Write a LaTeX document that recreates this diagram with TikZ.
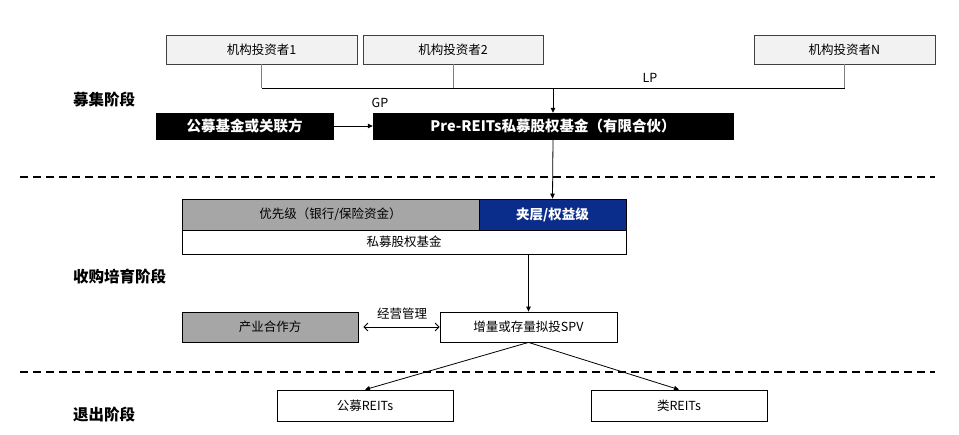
\documentclass[tikz,border=0pt]{standalone}
\usepackage{fontspec}
\setmainfont{Noto Sans CJK SC}
\usetikzlibrary{arrows.meta}
\definecolor{invfill}{HTML}{F2F2F2}
\definecolor{midgray}{HTML}{A6A6A6}
\definecolor{deepblue}{HTML}{0A2D8C}
\definecolor{edgegray}{HTML}{404040}
\tikzset{
  box/.style={draw=black, line width=0.8pt, minimum height=#1, inner sep=0pt, font=\fontsize{12.5}{14}\selectfont},
  box/.default=30pt,
  invbox/.style={draw=edgegray, fill=invfill, line width=0.8pt, minimum height=29pt, inner sep=0pt, font=\fontsize{12.5}{14}\selectfont},
  blackbox/.style={draw=black, fill=black, text=white, minimum height=26pt, inner sep=0pt, font=\fontsize{14.5}{16}\selectfont\bfseries},
  stagelabel/.style={anchor=west, inner sep=0pt, font=\fontsize{15.5}{17}\selectfont\bfseries},
  smalllabel/.style={inner sep=0pt, font=\fontsize{12.5}{14}\selectfont},
  arr/.style={-{Triangle[length=5pt,width=4.5pt]}, line width=0.8pt},
  sepline/.style={dash pattern=on 8pt off 5pt, line width=1.2pt},
}
\begin{document}
\begin{tikzpicture}[x=1pt, y=-1pt]
\useasboundingbox (0,0) rectangle (959,434);

% stage labels
\node[stagelabel] (st1) at (73,100) {募集阶段};
\node[stagelabel] (st2) at (73,277) {收购培育阶段};
\node[stagelabel] (st3) at (73,415) {退出阶段};

% separators
\coordinate (s1a) at (20,177);
\coordinate (s1b) at (935,177);
\coordinate (s2a) at (20,372);
\coordinate (s2b) at (935,372);
\draw[sepline] (s1a) -- (s1b);
\draw[sepline] (s2a) -- (s2b);

% investors
\node[invbox, minimum width=191pt] (inv1) at (261.5,49.5) {机构投资者1};
\node[invbox, minimum width=180pt] (inv2) at (453,49.5) {机构投资者2};
\node[invbox, minimum width=181pt] (invN) at (844.5,49.5) {机构投资者N};

% GP / fund
\node[blackbox, minimum width=177pt] (gp) at (244.5,126) {公募基金或关联方};
\node[blackbox, minimum width=360pt] (pre) at (553,126) {Pre-REITs私募股权基金（有限合伙）};

% bus
\coordinate (bus) at (0,88);
\draw[line width=0.8pt, draw=gray] (inv1.south) -- (inv1.south |- bus);
\draw[line width=0.8pt, draw=gray] (inv2.south) -- (inv2.south |- bus);
\draw[line width=0.8pt, draw=gray] (invN.south) -- (invN.south |- bus);
\draw[line width=0.8pt] (inv1.south |- bus) -- (invN.south |- bus);
\draw[arr] (pre.north |- bus) -- (pre.north);
\node[smalllabel] (lp) at (650,78) {LP};
\node[smalllabel] (gplab) at (380,103) {GP};
\draw[arr] (gp.east) -- (pre.west);

% structure
\node[box=31pt, fill=midgray, minimum width=297pt] (senior) at (330.5,214.5) {优先级（银行/保险资金）};
\node[box=31pt, fill=deepblue, text=white, minimum width=147pt, font=\fontsize{13.5}{15}\selectfont\bfseries] (mezz) at (552.5,214.5) {夹层/权益级};
\node[box=24pt, minimum width=444pt] (pef) at (404,242) {私募股权基金};
\draw[arr] (pre.south) -- (mezz.north);

% SPV row
\node[box=30pt, fill=midgray, minimum width=176pt] (partner) at (270,327) {产业合作方};
\node[box=30pt, minimum width=177pt] (spv) at (528.5,327) {增量或存量拟投SPV};
\draw[arr] (spv.north |- pef.south) -- (spv.north);
\draw[{Straight Barb[length=4pt,width=8pt]}-{Straight Barb[length=4pt,width=8pt]}, line width=0.8pt, shorten <=5pt] (partner.east) -- (spv.west);
\node[smalllabel] (mgmt) at (402,314) {经营管理};

% exit
\node[box=31pt, minimum width=176pt] (pub) at (365,405.5) {公募REITs};
\node[box=31pt, minimum width=176pt] (cls) at (679,405.5) {类REITs};
\draw[arr] (spv.south) -- (pub.north);
\draw[arr] (spv.south) -- (cls.north);
\end{tikzpicture}
\end{document}
